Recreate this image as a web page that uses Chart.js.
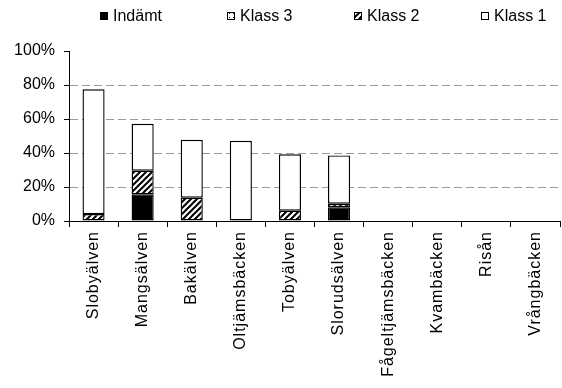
<!DOCTYPE html>
<html>
<head>
<meta charset="utf-8">
<script src="https://cdn.jsdelivr.net/npm/chart.js@4.4.1/dist/chart.umd.min.js"></script>
<style>
  html, body { margin: 0; padding: 0; background: #fff; }
  canvas { display: block; }
</style>
</head>
<body>
<canvas id="chart" width="562" height="388"></canvas>
<script>
// values in percent
const rivers = ["Slobyälven", "Mangsälven", "Bakälven", "Oltjämsbäcken", "Tobyälven",
  "Slorudsälven", "Fågeltjämsbäcken", "Kvambäcken", "Risån", "Vrångbäcken"];
const indamt = [0, 15.7, 0, 0, 0, 8.1, 0, 0, 0, 0];
const klass3 = [0, 0, 0, 0, 0, 0, 0, 0, 0, 0];
const klass2 = [4.1, 13.9, 13.7, 0, 6.1, 2.1, 0, 0, 0, 0];
const klass1 = [73.4, 27.6, 34.1, 47.2, 33.1, 28.4, 0, 0, 0, 0];
const yMax = 100;
const yStep = 20;

const fontFamily = "'Liberation Sans', Arial, sans-serif";

function hatchPattern() {
  const c = document.createElement("canvas");
  c.width = 6;
  c.height = 6;
  const g = c.getContext("2d");
  g.fillStyle = "#fff";
  g.fillRect(0, 0, 6, 6);
  g.strokeStyle = "#000";
  g.lineWidth = 2;
  g.beginPath();
  g.moveTo(0, 6); g.lineTo(6, 0);
  g.moveTo(-1, 1); g.lineTo(1, -1);
  g.moveTo(5, 7); g.lineTo(7, 5);
  g.stroke();
  return g.createPattern(c, "repeat");
}

function dotPattern() {
  const c = document.createElement("canvas");
  c.width = 4;
  c.height = 4;
  const g = c.getContext("2d");
  g.fillStyle = "#fff";
  g.fillRect(0, 0, 4, 4);
  g.fillStyle = "#000";
  g.fillRect(1, 1, 1, 1);
  return g.createPattern(c, "repeat");
}

// legend laid out like the original: fixed slots along the top
const legendStart = 100;
const legendStep = 127;
const slotLegend = {
  id: "slotLegend",
  afterDraw(chart) {
    const ctx = chart.ctx;
    ctx.save();
    ctx.font = "16px " + fontFamily;
    ctx.textBaseline = "middle";
    chart.data.datasets.forEach((ds, i) => {
      const x = legendStart + i * legendStep;
      ctx.fillStyle = ds.backgroundColor;
      ctx.fillRect(x, 12, 8, 8);
      ctx.strokeStyle = "#000";
      ctx.lineWidth = 1;
      ctx.strokeRect(x + 0.5, 12.5, 7, 7);
      ctx.fillStyle = "#000";
      ctx.fillText(ds.label, x + 13, 16.5);
    });
    ctx.restore();
  }
};

// category names in the picture are drawn a bit spread out
const spacedLabels = {
  id: "spacedLabels",
  afterLayout(chart) {
    const xs = chart.scales.x;
    if (xs._spaced) return;
    const draw = xs.drawLabels;
    xs.drawLabels = function (area) {
      this.ctx.save();
      this.ctx.letterSpacing = "1px";
      draw.call(this, area);
      this.ctx.restore();
    };
    xs._spaced = true;
  }
};

const barStyle = {
  borderColor: "#000",
  borderWidth: (c) => (c.raw ? 1.4 : 0),
  borderSkipped: false,
  inflateAmount: 0,
  categoryPercentage: 1,
  barPercentage: 0.45
};

new Chart(document.getElementById("chart"), {
  type: "bar",
  data: {
    labels: rivers,
    datasets: [
      { label: "Indämt", data: indamt, backgroundColor: "#000", ...barStyle },
      { label: "Klass 3", data: klass3, backgroundColor: dotPattern(), ...barStyle },
      { label: "Klass 2", data: klass2, backgroundColor: hatchPattern(), ...barStyle },
      { label: "Klass 1", data: klass1, backgroundColor: "#fff", ...barStyle }
    ]
  },
  options: {
    responsive: false,
    animation: false,
    devicePixelRatio: 1,
    layout: { padding: { top: 51, right: 2, left: 0, bottom: 0 } },
    plugins: {
      legend: { display: false },
      tooltip: { enabled: false }
    },
    scales: {
      x: {
        stacked: true,
        grid: {
          offset: true,
          drawOnChartArea: false,
          tickLength: 6,
          color: "#000",
          tickColor: "#000"
        },
        border: { color: "#000", width: 1 },
        ticks: {
          autoSkip: false,
          minRotation: 90,
          maxRotation: 90,
          padding: 4,
          color: "#000",
          font: { family: fontFamily, size: 16 }
        },
        afterFit(scale) { scale.height = 167; }
      },
      y: {
        stacked: true,
        min: 0,
        max: yMax,
        grid: {
          tickLength: 5,
          tickColor: "#000",
          color: (c) => (c.tick && c.tick.value > 0 && c.tick.value < yMax) ? "#999" : "rgba(0,0,0,0)"
        },
        border: { color: "#000", width: 1, dash: [8, 4] },
        ticks: {
          stepSize: yStep,
          padding: 9,
          color: "#000",
          font: { family: fontFamily, size: 16 },
          callback: (v) => v + "%"
        },
        afterFit(scale) { scale.width = 69; }
      }
    }
  },
  plugins: [slotLegend, spacedLabels]
});
</script>
</body>
</html>
